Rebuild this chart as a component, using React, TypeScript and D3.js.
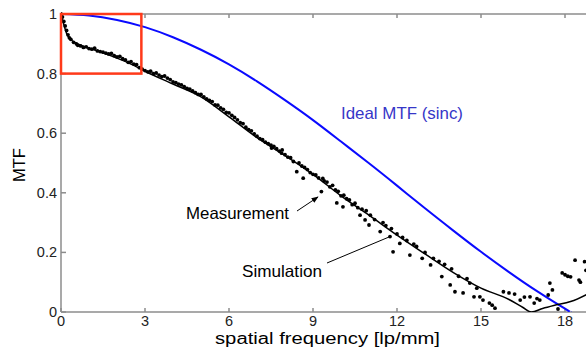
import React from "react";
import * as d3 from "d3";

// ideal sinc MTF, read at whole lp/mm steps
const idealFreq = [0, 1, 2, 3, 4, 5, 6, 7, 8, 9, 10, 11, 12, 13, 14, 15, 16, 17, 18, 18.2];
const idealMtf = [1, 0.995, 0.98, 0.956, 0.922, 0.88, 0.831, 0.774, 0.711, 0.644, 0.572, 0.499, 0.424, 0.348, 0.274, 0.202, 0.134, 0.07, 0.011, 0];

// simulated MTF curve
const simFreq = [0, 0.1, 0.2, 0.4, 0.6, 1, 1.5, 2, 2.5, 3, 4, 5, 6, 7, 8, 9, 10, 11, 12, 13, 14, 15, 16, 16.5, 16.8, 17.2, 17.6, 18.2, 18.8, 19];
const simMtf = [1, 0.965, 0.935, 0.91, 0.9, 0.885, 0.87, 0.852, 0.832, 0.808, 0.765, 0.722, 0.655, 0.585, 0.525, 0.462, 0.39, 0.325, 0.258, 0.195, 0.133, 0.08, 0.042, 0.015, 0.0, 0.012, 0.022, 0.035, 0.06, 0.07];

// measured points [frequency, mtf]
const measured: [number, number][] = [
  [0, 1], [0.05, 0.99], [0.1, 0.975], [0.15, 0.96], [0.2, 0.945], [0.25, 0.93], [0.3, 0.92], [0.35, 0.915],
  [0.45, 0.905], [0.55, 0.9], [0.6, 0.895], [0.7, 0.893], [0.8, 0.888], [0.9, 0.89], [1.0, 0.884], [1.1, 0.882],
  [1.2, 0.885], [1.3, 0.876], [1.4, 0.874], [1.5, 0.872], [1.6, 0.869], [1.7, 0.866], [1.8, 0.868], [1.9, 0.86],
  [2.0, 0.856], [2.1, 0.858], [2.2, 0.85], [2.3, 0.846], [2.4, 0.838], [2.5, 0.84], [2.6, 0.832], [2.7, 0.83],
  [2.8, 0.82], [2.9, 0.815], [3.0, 0.81], [3.1, 0.806], [3.2, 0.808], [3.3, 0.8], [3.4, 0.802], [3.5, 0.795],
  [3.6, 0.79], [3.7, 0.792], [3.8, 0.785], [3.9, 0.78], [4.0, 0.772], [4.1, 0.77], [4.2, 0.765], [4.3, 0.762],
  [4.4, 0.756], [4.5, 0.75], [4.6, 0.748], [4.7, 0.742], [4.8, 0.736], [4.9, 0.73], [5.0, 0.73], [5.1, 0.722],
  [5.2, 0.715], [5.3, 0.71], [5.4, 0.706], [5.5, 0.695], [5.6, 0.694], [5.7, 0.685], [5.8, 0.68], [5.9, 0.67],
  [6.0, 0.668], [6.1, 0.66], [6.2, 0.653], [6.3, 0.645], [6.4, 0.635], [6.5, 0.632], [6.6, 0.62], [6.7, 0.612],
  [6.8, 0.608], [6.9, 0.598], [7.0, 0.59], [7.1, 0.582], [7.2, 0.578], [7.3, 0.57], [7.4, 0.565], [7.5, 0.56],
  [7.52, 0.55], [7.6, 0.556], [7.7, 0.548], [7.8, 0.54], [7.88, 0.533], [7.9, 0.544], [8.0, 0.528], [8.1, 0.52],
  [8.2, 0.518], [8.3, 0.505], [8.42, 0.471], [8.5, 0.5], [8.6, 0.49], [8.65, 0.449], [8.7, 0.485], [8.8, 0.478],
  [8.9, 0.468], [9.0, 0.462], [9.1, 0.46], [9.2, 0.45], [9.3, 0.404], [9.35, 0.448], [9.4, 0.44], [9.5, 0.436],
  [9.6, 0.42], [9.7, 0.425], [9.8, 0.41], [9.85, 0.366], [9.9, 0.405], [10.0, 0.39], [10.07, 0.353], [10.1, 0.392],
  [10.2, 0.38], [10.3, 0.376], [10.4, 0.36], [10.5, 0.365], [10.6, 0.35], [10.68, 0.325], [10.75, 0.345],
  [10.86, 0.309], [10.9, 0.34], [11.0, 0.292], [11.05, 0.325], [11.2, 0.31], [11.4, 0.27], [11.5, 0.3],
  [11.6, 0.29], [11.75, 0.253], [11.8, 0.28], [11.86, 0.202], [12.0, 0.262], [12.1, 0.23], [12.2, 0.25],
  [12.35, 0.24], [12.46, 0.191], [12.6, 0.228], [12.7, 0.22], [12.9, 0.18], [13.0, 0.2], [13.2, 0.158],
  [13.3, 0.18], [13.5, 0.17], [13.6, 0.119], [13.7, 0.16], [13.9, 0.091], [13.95, 0.145], [14.07, 0.068],
  [14.2, 0.12], [14.36, 0.064], [14.5, 0.112], [14.6, 0.097], [14.75, 0.051], [14.85, 0.08], [14.96, 0.051],
  [15.07, 0.04], [15.3, 0.03], [15.4, 0.023], [15.5, 0.013], [15.8, 0.068], [16.0, 0.064], [16.2, 0.06],
  [16.4, 0.04], [16.55, 0.05], [16.75, 0.051], [16.9, 0.03], [17.0, 0.045], [17.1, 0.04], [17.4, 0.057],
  [17.46, 0.097], [17.55, 0.074], [17.75, 0.01], [17.9, 0.131], [18.0, 0.125], [18.1, 0.12], [18.2, 0.118],
  [18.36, 0.174], [18.5, 0.107], [18.55, 0.1], [18.7, 0.169], [18.75, 0.14],
];

const xTicks = [0, 3, 6, 9, 12, 15, 18];
const yTicks = [0, 0.2, 0.4, 0.6, 0.8, 1];
const zoomBox = { f0: 0, f1: 2.87, m0: 0.8, m1: 1 };

const W = 586;
const H = 352;
const left = 61;
const top = 14;
const bottom = 312;
const font = "'Liberation Sans', Arial, Helvetica, sans-serif";
const axisColor = "#8c8c8c";

export default function App() {
  const x = d3.scaleLinear().domain([0, 19]).range([left, left + 19 * 28]);
  const y = d3.scaleLinear().domain([0, 1]).range([bottom, top]);

  const idealLine = d3
    .line<number>()
    .x((d, i) => x(idealFreq[i]))
    .y((d) => y(d))
    .curve(d3.curveNatural);
  const simLine = d3
    .line<number>()
    .x((d, i) => x(simFreq[i]))
    .y((d) => y(d))
    .curve(d3.curveMonotoneX);

  return (
    <svg
      width={W}
      height={H}
      style={{ position: "absolute", left: 0, top: 0, background: "#fff" }}
      fontFamily={font}
    >
      <defs>
        <clipPath id="plot">
          <rect x={left} y={top - 2} width={W - left} height={bottom - top + 2} />
        </clipPath>
        <marker id="arr" viewBox="0 0 10 10" refX="9" refY="5" markerWidth="7" markerHeight="7" orient="auto">
          <path d="M0,1 L10,5 L0,9 Z" fill="#000" />
        </marker>
      </defs>

      {/* axes */}
      <g stroke={axisColor} strokeWidth={1.5} fill="none">
        <line x1={left} x2={W} y1={top} y2={top} />
        <line x1={left} x2={W} y1={bottom} y2={bottom} />
        <line x1={left} x2={left} y1={top} y2={bottom} />
        {xTicks.map((t) => (
          <g key={t}>
            <line x1={x(t)} x2={x(t)} y1={bottom} y2={bottom - 4} />
            <line x1={x(t)} x2={x(t)} y1={top} y2={top + 4} />
          </g>
        ))}
        {yTicks.map((t) => (
          <line key={t} x1={left} x2={left + 5} y1={y(t)} y2={y(t)} />
        ))}
      </g>

      <g fontSize={14.5} fill="#222">
        {xTicks.map((t) => (
          <text key={t} x={x(t)} y={326} textAnchor="middle">
            {t}
          </text>
        ))}
        {yTicks.map((t) => (
          <text key={t} x={57} y={y(t) + 5} textAnchor="end">
            {t === 0 || t === 1 ? String(t) : t.toFixed(1)}
          </text>
        ))}
      </g>

      <g clipPath="url(#plot)">
        <path d={idealLine(idealMtf) || ""} fill="none" stroke="#0a0aff" strokeWidth={2} />
        <path d={simLine(simMtf) || ""} fill="none" stroke="#000" strokeWidth={1.5} />
        {measured.map(([f, m], i) => (
          <circle key={i} cx={x(f)} cy={y(m)} r={1.9} fill="#000" />
        ))}
      </g>

      <rect
        x={x(zoomBox.f0)}
        y={y(zoomBox.m1)}
        width={x(zoomBox.f1) - x(zoomBox.f0)}
        height={y(zoomBox.m0) - y(zoomBox.m1)}
        fill="none"
        stroke="#ff3a1a"
        strokeWidth={2.5}
      />

      {/* annotations */}
      <text x={341} y={119} fontSize={16.5} fill="#3636c8" textLength={122} lengthAdjust="spacingAndGlyphs">
        Ideal MTF (sinc)
      </text>
      <text x={186} y={219} fontSize={16.5} fill="#000" textLength={103} lengthAdjust="spacingAndGlyphs">
        Measurement
      </text>
      <line x1={297} y1={211} x2={318} y2={197} stroke="#000" strokeWidth={1} markerEnd="url(#arr)" />
      <text x={242} y={277} fontSize={16.5} fill="#000" textLength={80} lengthAdjust="spacingAndGlyphs">
        Simulation
      </text>
      <line x1={327} y1={263} x2={389} y2={237} stroke="#000" strokeWidth={1} />

      <text x={215} y={344} fontSize={16} fill="#000" textLength={225} lengthAdjust="spacingAndGlyphs">
        spatial frequency [lp/mm]
      </text>
      <text
        transform="translate(25,165) rotate(-90)"
        textAnchor="middle"
        fontSize={16.5}
        fill="#000"
      >
        MTF
      </text>
    </svg>
  );
}
